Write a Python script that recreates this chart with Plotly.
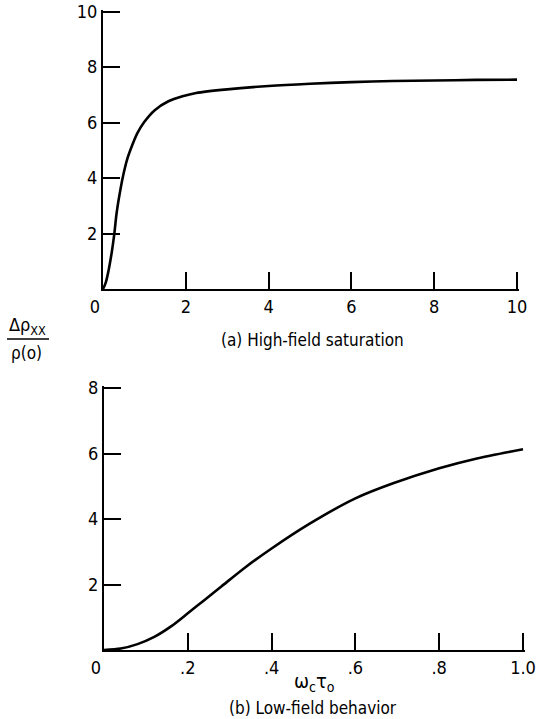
import plotly.graph_objects as go

# ---- data ----
top_x = [0, 0.06, 0.125, 0.21, 0.27, 0.33, 0.42, 0.5, 0.58, 0.71, 0.83, 1.0, 1.25,
         1.58, 1.92, 2.25, 3.0, 4.0, 5.0, 6.0, 7.0, 8.0, 9.0, 10.0]
top_y = [0, 0.2, 0.6, 1.31, 1.95, 2.75, 3.58, 4.18, 4.66, 5.2, 5.62, 6.03, 6.45,
         6.77, 6.95, 7.07, 7.2, 7.32, 7.4, 7.46, 7.5, 7.52, 7.54, 7.55]

bot_x = [0, 0.04, 0.08, 0.12, 0.16, 0.2, 0.24, 0.28, 0.34, 0.4, 0.49, 0.6, 0.69, 0.8, 0.89, 1.0]
bot_y = [0, 0.045, 0.18, 0.40, 0.72, 1.12, 1.53, 1.94, 2.55, 3.10, 3.85, 4.63, 5.09, 5.55, 5.85, 6.13]

top_xticks = [0, 2, 4, 6, 8, 10]
top_xtext = ["0\u2002\u2002", "2", "4", "6", "8", "10"]
top_yticks = [2, 4, 6, 8, 10]
top_ytext = ["2", "4", "6", "8", "10"]

bot_xticks = [0, 0.2, 0.4, 0.6, 0.8, 1.0]
bot_xtext = ["0\u2002\u2002", ".2", ".4", ".6", ".8", "1.0"]
bot_yticks = [2, 4, 6, 8]
bot_ytext = ["2", "4", "6", "8"]

FONT = "Liberation Sans Narrow, DejaVu Sans Condensed, Arial Narrow, sans-serif"
W, H = 536, 719
EXT = 1.8  # px the axis runs past its last tick, so plotly keeps the end tick

def px(x):
    return x / W

def py(y):
    return 1 - y / H

def xaxis_setup(p0, p1, vmax):
    per = (p1 - p0) / vmax
    return [px(p0), px(p1 + EXT)], [0, vmax + EXT / per]

def yaxis_setup(p0, p1, vmax):
    per = (p0 - p1) / vmax
    return [py(p0), py(p1 - EXT)], [0, vmax + EXT / per]

tx_dom, tx_rng = xaxis_setup(103, 517, 10)
ty_dom, ty_rng = yaxis_setup(289, 11.7, 10)
bx_dom, bx_rng = xaxis_setup(104, 523, 1.0)
by_dom, by_rng = yaxis_setup(650, 388, 8)

fig = go.Figure()
fig.add_trace(go.Scatter(x=top_x, y=top_y, mode="lines", xaxis="x", yaxis="y",
                         line=dict(color="black", width=2.6, shape="spline", smoothing=0.8),
                         showlegend=False, hoverinfo="skip"))
fig.add_trace(go.Scatter(x=bot_x, y=bot_y, mode="lines", xaxis="x2", yaxis="y2",
                         line=dict(color="black", width=2.6, shape="spline", smoothing=0.8),
                         showlegend=False, hoverinfo="skip"))

axis_common = dict(showline=True, linecolor="black", linewidth=2, ticks="inside",
                   ticklen=17, tickwidth=1.6, tickcolor="black", showgrid=False,
                   zeroline=False, automargin=False, ticklabeloverflow="allow",
                   tickfont=dict(family=FONT, size=18, color="black"),
                   fixedrange=True)

fig.update_layout(
    template="none",
    width=W, height=H,
    margin=dict(l=0, r=0, t=0, b=0, pad=0, autoexpand=False),
    paper_bgcolor="white", plot_bgcolor="white",
    xaxis=dict(domain=tx_dom, range=tx_rng, anchor="y",
               tickmode="array", tickvals=top_xticks, ticktext=top_xtext, **axis_common),
    yaxis=dict(domain=ty_dom, range=ty_rng, anchor="x",
               tickmode="array", tickvals=top_yticks, ticktext=top_ytext, **axis_common),
    xaxis2=dict(domain=bx_dom, range=bx_rng, anchor="y2",
                tickmode="array", tickvals=bot_xticks, ticktext=bot_xtext, **axis_common),
    yaxis2=dict(domain=by_dom, range=by_rng, anchor="x2",
                tickmode="array", tickvals=bot_yticks, ticktext=bot_ytext, **axis_common),
)

def ann(text, x, y, size=17):
    fig.add_annotation(text=text, x=px(x), y=py(y), xref="paper", yref="paper",
                       showarrow=False, xanchor="center", yanchor="middle",
                       font=dict(family=FONT, size=size, color="black"))

ann("(a) High-field saturation", 312, 340)
ann("ω<sub>c</sub>τ<sub>o</sub>", 314, 682, size=20)
ann("(b) Low-field behavior", 313, 708)
ann("Δρ<sub>XX</sub>", 27, 326, size=18)
ann("ρ(o)", 26, 353)
fig.add_shape(type="line", xref="paper", yref="paper",
              x0=px(7), x1=px(49), y0=py(339), y1=py(339),
              line=dict(color="black", width=1.6))

# remove the browser's default 8px body margin so the figure fills the window
fig.write_html("out.html", config={"displayModeBar": False},
               post_script="document.body.style.margin='0';document.body.style.overflow='hidden';")
